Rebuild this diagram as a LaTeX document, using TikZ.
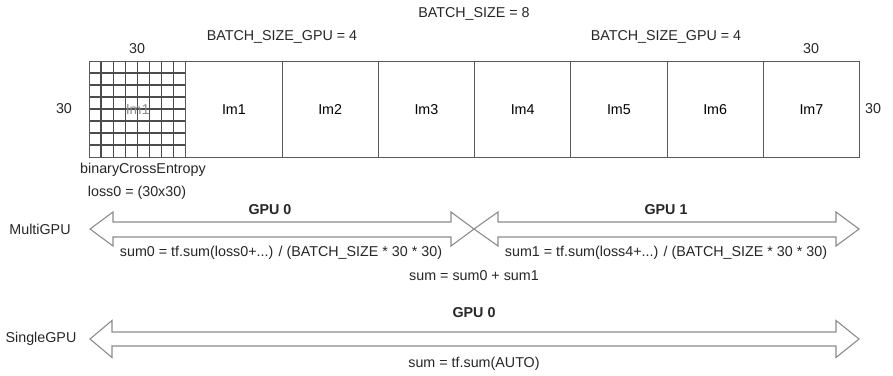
\documentclass[tikz,border=0pt]{standalone}
\usepackage{fontspec}
\setmainfont{Liberation Sans}
\begin{document}
\begin{tikzpicture}[x=1pt,y=-1pt,
  lbl/.style={inner sep=0pt,font=\fontsize{14.3}{16}\selectfont,text=black!85},
  imbox/.style={draw=black!65,line width=1.1pt,minimum width=96.25pt,minimum height=96pt,inner sep=0pt,anchor=north west,font=\fontsize{14.3}{16}\selectfont},
  dbl/.style={draw=black!45,line width=1.1pt,line join=miter,fill=white}]
\useasboundingbox (0,0) rectangle (893,375);
% boxes
\node[imbox] (b0) at (89,61) {};
\foreach \i/\t in {1/Im1,2/Im2,3/Im3,4/Im4,5/Im5,6/Im6,7/Im7}{
  \node[imbox] (b\i) at ({89+96.25*\i},61) {\t};
}
% grid in first box
\foreach \k in {1,...,7}{
  \draw[black!70,line width=1.1pt] ({89+12.03*\k},61) -- ({89+12.03*\k},157);
  \draw[black!70,line width=1.1pt] (89,{61+12*\k}) -- (185.25,{61+12*\k});
}
\node[imbox] (b0f) at (89,61) {};
\node[lbl,text=black!45] (g0) at (b0.center) {Im1};
% top labels
\node[lbl] (bs) at (474,14) {BATCH\_SIZE = 8};
\node[lbl] (bg0) at (282,37) {BATCH\_SIZE\_GPU = 4};
\node[lbl] (bg1) at (666,37) {BATCH\_SIZE\_GPU = 4};
\node[lbl] (w0) at (137,49) {30};
\node[lbl] (w1) at (811,49) {30};
\node[lbl] (h0) at (64,109) {30};
\node[lbl,anchor=west] (h1) at (865,109) {30};
\node[lbl] (bce) at (143,170) {binaryCrossEntropy};
\node[lbl] (l0) at (137,193) {loss0 = (30x30)};
% MultiGPU arrows
\draw[dbl] (90,229) -- (113,212) -- (113,222) -- (451,222) -- (451,212) -- (474,229)
  -- (451,246) -- (451,237) -- (113,237) -- (113,246) -- cycle;
\draw[dbl] (474,229) -- (498,212) -- (498,222) -- (836,222) -- (836,212) -- (859,229)
  -- (836,246) -- (836,237) -- (498,237) -- (498,246) -- cycle;
\node[lbl] (mg) at (40,229) {MultiGPU};
\node[lbl,font=\fontsize{14.3}{16}\selectfont\bfseries] (gpu0) at (270,210) {GPU 0};
\node[lbl,font=\fontsize{14.3}{16}\selectfont\bfseries] (gpu1) at (666,210) {GPU 1};
\node[lbl] (s0) at (281,253) {sum0 = tf.sum(loss0+...) / (BATCH\_SIZE * 30 * 30)};
\node[lbl] (s1) at (666,253) {sum1 = tf.sum(loss4+...) / (BATCH\_SIZE * 30 * 30)};
\node[lbl] (s) at (474,276) {sum = sum0 + sum1};
% SingleGPU arrow
\draw[dbl] (90,339) -- (112,320.5) -- (112,332) -- (836,332) -- (836,320.5) -- (859,339)
  -- (836,357.5) -- (836,346) -- (112,346) -- (112,357.5) -- cycle;
\node[lbl] (sg) at (41,339) {SingleGPU};
\node[lbl,font=\fontsize{14.3}{16}\selectfont\bfseries] (gpu0s) at (474,313) {GPU 0};
\node[lbl] (ss) at (474,364) {sum = tf.sum(AUTO)};
\end{tikzpicture}
\end{document}
